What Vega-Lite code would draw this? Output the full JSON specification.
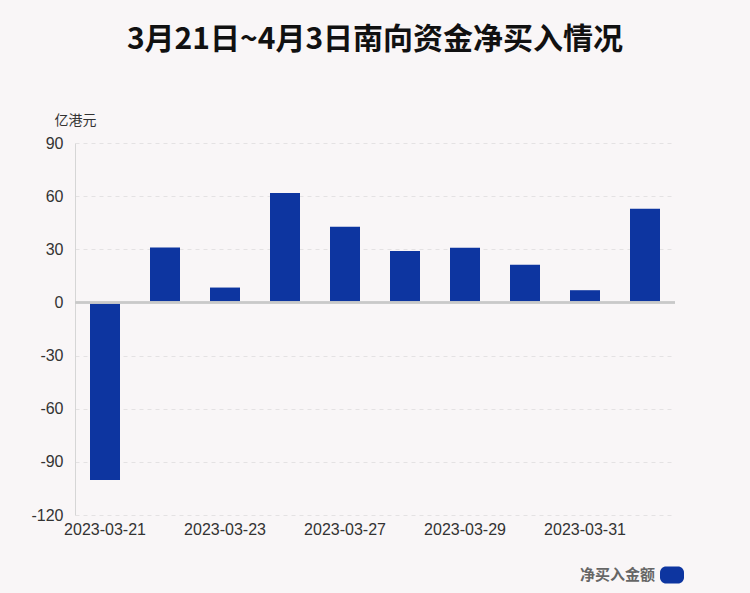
{
  "$schema": "https://vega.github.io/schema/vega-lite/v6.json",
  "width": 600,
  "height": 372,
  "autosize": {"type": "none"},
  "padding": {"left": 75, "top": 143, "right": 75, "bottom": 78},
  "background": "#f9f6f7",
  "title": {
    "text": "3月21日~4月3日南向资金净买入情况",
    "font": "Noto Sans CJK SC",
    "fontSize": 30,
    "fontWeight": "bold",
    "color": "#111111",
    "anchor": "middle",
    "frame": "group",
    "offset": 58
  },
  "config": {
    "view": {"stroke": null},
    "font": "Liberation Sans"
  },
  "data": {
    "values": [
      {"date": "2023-03-21", "value": -100.3, "series": "净买入金额"},
      {"date": "2023-03-22", "value": 31.0, "series": "净买入金额"},
      {"date": "2023-03-23", "value": 8.4, "series": "净买入金额"},
      {"date": "2023-03-24", "value": 61.8, "series": "净买入金额"},
      {"date": "2023-03-27", "value": 42.7, "series": "净买入金额"},
      {"date": "2023-03-28", "value": 29.1, "series": "净买入金额"},
      {"date": "2023-03-29", "value": 30.8, "series": "净买入金额"},
      {"date": "2023-03-30", "value": 21.2, "series": "净买入金额"},
      {"date": "2023-03-31", "value": 6.9, "series": "净买入金额"},
      {"date": "2023-04-03", "value": 52.9, "series": "净买入金额"}
    ]
  },
  "layer": [
    {
      "mark": {"type": "bar"},
      "encoding": {
        "x": {
          "field": "date",
          "type": "nominal",
          "sort": null,
          "scale": {"paddingInner": 0.5, "paddingOuter": 0.25},
          "axis": {
            "title": null,
            "values": ["2023-03-21", "2023-03-23", "2023-03-27", "2023-03-29", "2023-03-31"],
            "labelAngle": 0,
            "labelFontSize": 16,
            "labelColor": "#333333",
            "labelPadding": 6,
            "domain": false,
            "ticks": false,
            "grid": false
          }
        },
        "y": {
          "field": "value",
          "type": "quantitative",
          "scale": {"domain": [-120, 90], "nice": false, "zero": false},
          "axis": {
            "title": "亿港元",
            "titleFont": "Noto Sans CJK SC",
            "titleFontSize": 14,
            "titleFontWeight": "normal",
            "titleColor": "#333333",
            "titleAngle": 0,
            "titleAlign": "center",
            "titleBaseline": "middle",
            "titleX": 0,
            "titleY": -23,
            "values": [-120, -90, -60, -30, 0, 30, 60, 90],
            "labelExpr": "toString(datum.value)",
            "labelFontSize": 16,
            "labelColor": "#333333",
            "labelPadding": 12,
            "ticks": false,
            "domainColor": "#d6d6d6",
            "gridColor": "#e4e2e3",
            "gridDash": [4, 4]
          }
        },
        "color": {
          "field": "series",
          "type": "nominal",
          "scale": {"range": ["#0d35a0"]},
          "legend": {
            "title": null,
            "orient": "none",
            "legendX": 585,
            "legendY": 420,
            "symbolType": "M -0.5 -0.7 H 0.5 A 0.5 0.5 0 0 1 1 -0.2 V 0.2 A 0.5 0.5 0 0 1 0.5 0.7 H -0.5 A 0.5 0.5 0 0 1 -1 0.2 V -0.2 A 0.5 0.5 0 0 1 -0.5 -0.7 Z",
            "symbolSize": 576,
            "symbolStrokeWidth": 0,
            "symbolOpacity": 1,
            "labelFont": "Noto Sans CJK SC",
            "labelFontSize": 15,
            "labelFontWeight": "bold",
            "labelColor": "#666666",
            "labelAlign": "right",
            "labelOffset": -29
          }
        }
      }
    },
    {
      "mark": {"type": "rule", "color": "#c9c9c9", "strokeWidth": 1.5},
      "encoding": {"y": {"datum": 0}}
    }
  ]
}
